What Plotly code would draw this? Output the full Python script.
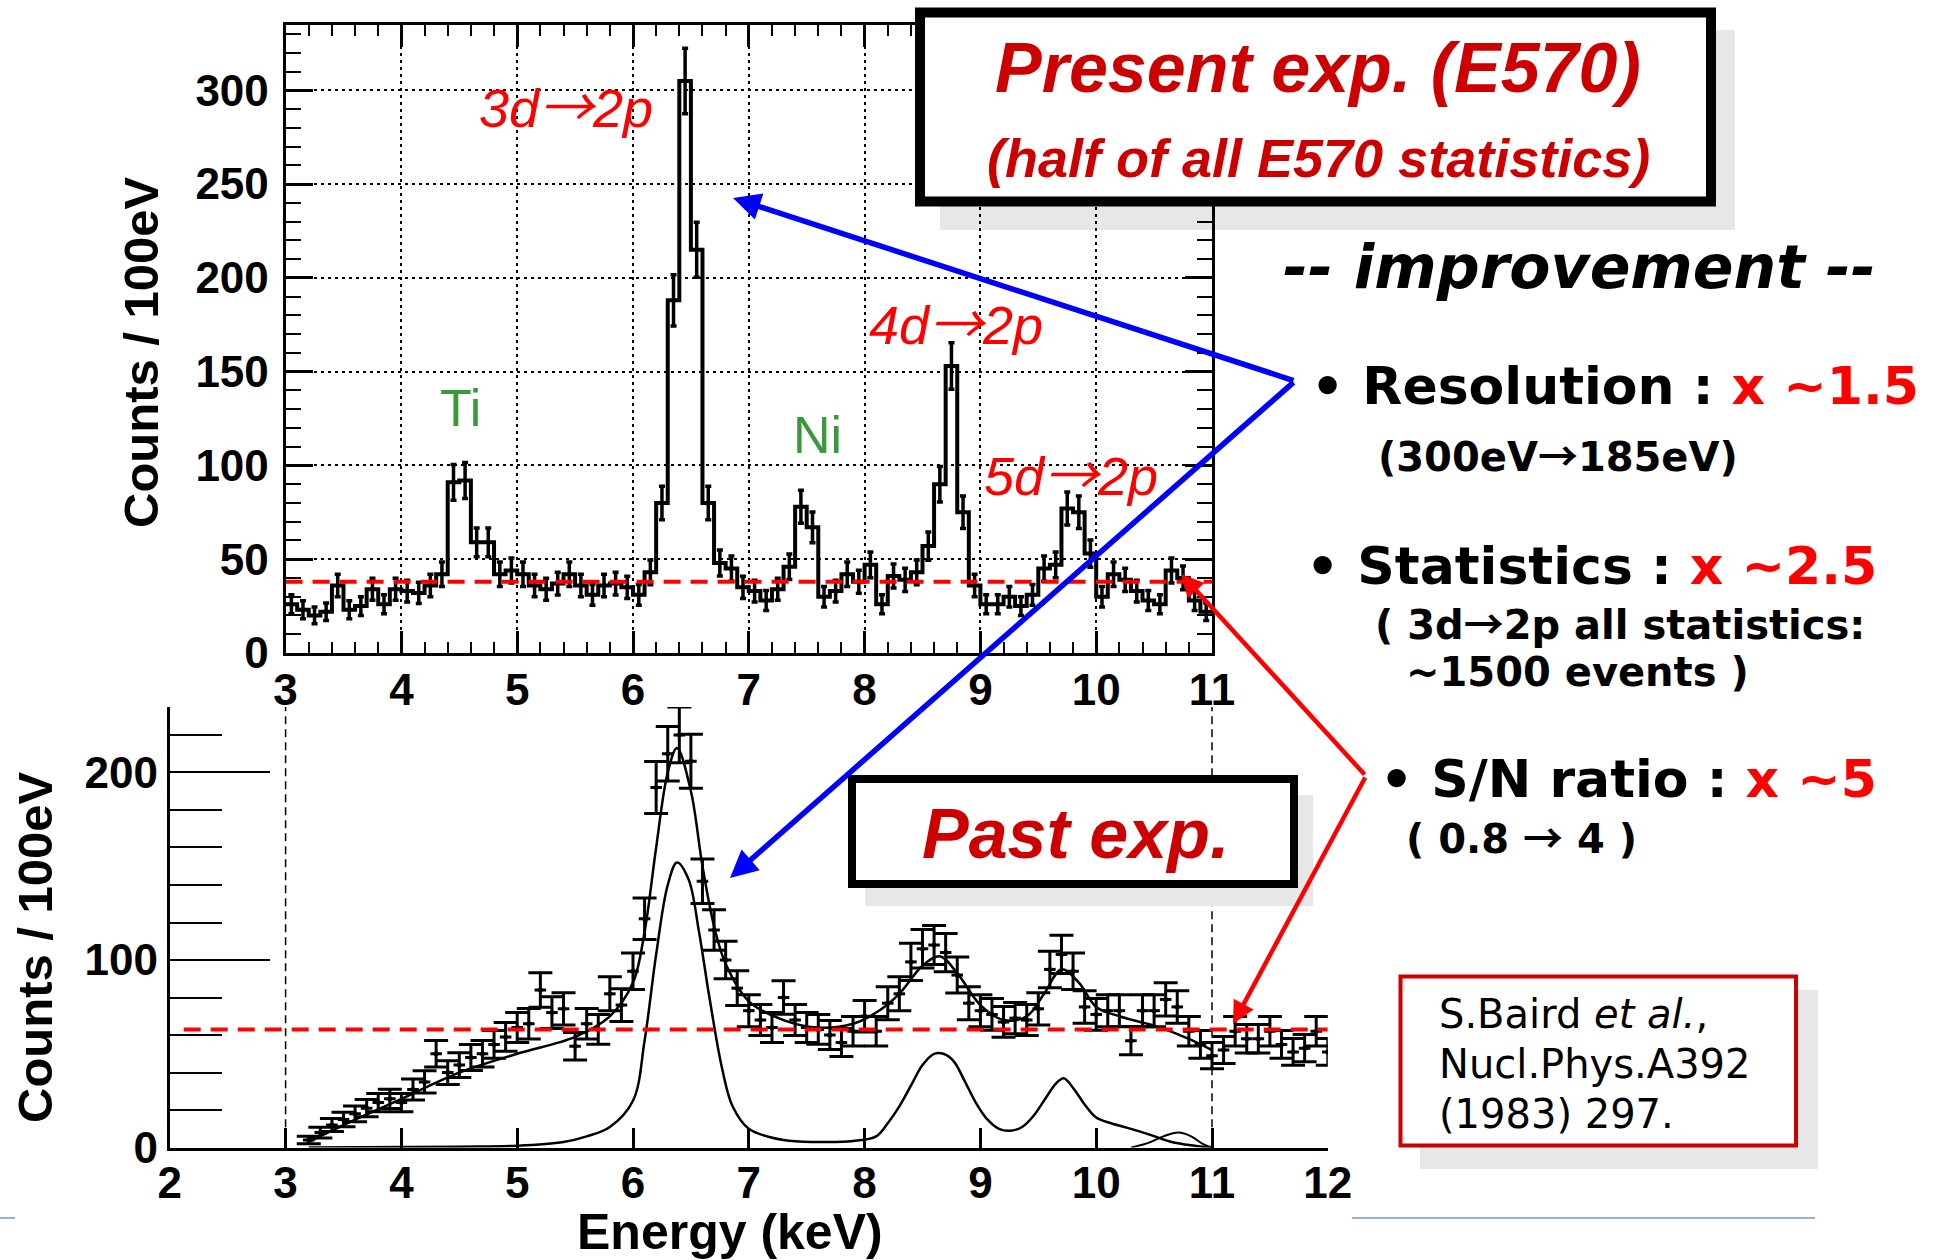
import numpy as np
import plotly.graph_objects as go

W, H = 1939, 1260

# ---------------- data ----------------
# E570 spectrum, 100 eV bins from 3.0 to 11.0 keV
e570_counts = [26, 23, 20, 22, 36, 23, 25, 34, 26, 34,
               33, 32, 36, 42, 91, 92, 59, 59, 42, 44,
               42, 36, 34, 37, 42, 36, 31, 36, 37, 35,
               31, 43, 80, 188, 305, 215, 80, 48, 45, 35,
               33, 28, 34, 46, 78, 67, 30, 33, 42, 38,
               47, 26, 41, 39, 43, 57, 90, 153, 75, 36,
               26, 26, 30, 25, 31, 45, 47, 77, 75, 53,
               30, 42, 39, 33, 28, 26, 44, 40, 28, 22]
e570_bin_lo = 3.0
e570_bin_w = 0.1
e570_bg_level = 38

# Past experiment (S.Baird et al.), points from 3.2 to 12.0 keV
past_counts = [4, 8, 12, 15, 18, 21, 24, 26,
               24, 31, 35, 50, 40, 44, 48, 50, 55, 59,
               64, 66, 84, 72, 74, 54, 66, 63, 82, 76,
               94, 122, 192, 210, 220, 206, 142, 116, 100, 85,
               73, 68, 64, 80, 68, 64, 63, 60, 56, 62,
               70, 62, 77, 82, 99, 106, 108, 104, 92, 77,
               73, 71, 67, 69, 68, 74, 95, 103, 94, 75,
               71, 73, 73, 57, 73, 73, 79, 75, 62, 55,
               49, 52, 62, 58, 58, 62, 55, 51, 53, 62, 51]
past_e_first = 3.2
past_e_step = 0.1
past_bg_level = 63

# total fit curve of the past data
fit_total_e = [3.2, 3.5, 4.0, 4.5, 5.0, 5.5, 5.8, 6.0, 6.1, 6.2, 6.3, 6.38, 6.5,
               6.6, 6.7, 6.8, 7.0, 7.3, 7.6, 7.9, 8.1, 8.3, 8.5, 8.65, 8.8, 9.0,
               9.2, 9.4, 9.55, 9.7, 9.85, 10.0, 10.2, 10.5, 10.8, 11.0]
fit_total_y = [3, 12, 26, 40, 50, 59, 70, 88, 115, 160, 200, 213, 190,
               150, 118, 98, 78, 68, 64, 66, 72, 82, 97, 102, 93, 76,
               68, 70, 82, 95, 88, 75, 70, 65, 58, 52]
# kaonic-line components (3d, 4d, 5d -> 2p)
fit_lines_e = [3.2, 4.5, 5.0, 5.4, 5.6, 5.8, 6.0, 6.1, 6.2, 6.3, 6.38, 6.48, 6.57,
               6.66, 6.77, 6.86, 7.0, 7.3, 7.6, 7.9, 8.1, 8.2, 8.3, 8.4, 8.5, 8.6,
               8.68, 8.77, 8.86, 8.96, 9.06, 9.16, 9.26, 9.36, 9.46, 9.56, 9.65,
               9.72, 9.81, 9.9, 10.0, 10.13, 10.3, 10.48, 10.65, 10.85, 11.0]
fit_lines_y = [0, 0.5, 1, 3, 6, 11, 25, 57, 103, 140, 152, 143, 115,
               80, 42, 22, 10, 4, 3, 3.5, 6, 13, 22, 33, 44, 50,
               50, 46, 36, 24, 15, 10, 9, 11, 17, 26, 34,
               37, 31, 23, 16, 13, 10, 6.5, 3, 1, 0]
# 6d -> 2p component
fit_6d_e = [10.3, 10.45, 10.58, 10.71, 10.82, 10.92, 11.0]
fit_6d_y = [0, 2.5, 6, 8, 6, 2, 0]

# ---------------- pixel geometry ----------------
def fx(x):
    return x / W


def fy(y):
    return 1 - y / H


TOP_X = (285.6, 1212.0)
TOP_Y = (24.7, 653.0)
BOT_X = (169.8, 1327.8)
BOT_Y = (707.0, 1147.6)
PX_PER_COUNT = 1.8757

ARIAL = "Liberation Sans, Arial, sans-serif"
WIDE = "DejaVu Sans, Verdana, sans-serif"
RED = "#FF0000"
DARKRED = "#CC0000"
GREEN = "#3A9A3A"
# full-width arrow glyph
ARROW = "<span style='font-family:Noto Sans CJK JP'>→</span>"

fig = go.Figure()

# ---------------- top: E570 histogram ----------------
counts = np.array(e570_counts, dtype=float)
centers = np.round(e570_bin_lo + e570_bin_w * (np.arange(len(counts)) + 0.5), 3)
hi_edge = e570_bin_lo + e570_bin_w * len(counts)
step_x = np.concatenate([[e570_bin_lo], centers, [hi_edge]])
step_y = np.concatenate([[counts[0]], counts, [counts[-1]]])

fig.add_trace(go.Scatter(x=step_x, y=step_y, mode="lines",
                         line=dict(shape="hvh", color="black", width=4),
                         xaxis="x", yaxis="y", showlegend=False, hoverinfo="skip"))
fig.add_trace(go.Scatter(x=centers, y=counts, mode="markers",
                         marker=dict(size=1, color="black"),
                         error_y=dict(type="data", array=np.sqrt(counts), color="black",
                                      thickness=3.5, width=3),
                         xaxis="x", yaxis="y", showlegend=False))

# ---------------- bottom: past experiment ----------------
pc = np.array(past_counts, dtype=float)
pe = np.round(past_e_first + past_e_step * np.arange(len(pc)), 3)

fig.add_trace(go.Scatter(x=fit_lines_e, y=fit_lines_y, mode="lines",
                         line=dict(shape="spline", color="black", width=2.5),
                         xaxis="x2", yaxis="y2", showlegend=False))
fig.add_trace(go.Scatter(x=fit_6d_e, y=fit_6d_y, mode="lines",
                         line=dict(shape="spline", color="black", width=2),
                         xaxis="x2", yaxis="y2", showlegend=False))
fig.add_trace(go.Scatter(x=fit_total_e, y=fit_total_y, mode="lines",
                         line=dict(shape="spline", color="black", width=2.5),
                         xaxis="x2", yaxis="y2", showlegend=False))
fig.add_trace(go.Scatter(x=pe, y=pc, mode="markers",
                         marker=dict(size=5, color="black"),
                         error_y=dict(type="data", array=np.sqrt(pc), color="black",
                                      thickness=3, width=12),
                         error_x=dict(type="constant", value=0.05, color="black",
                                      thickness=3, width=0),
                         xaxis="x2", yaxis="y2", showlegend=False))

# page-number text drawn in pixel space so that it can run off the lower edge
fig.add_trace(go.Scatter(x=[1771], y=[1262], mode="text", text=["14"],
                         textfont=dict(family=WIDE, size=40, color="#333333"),
                         textposition="middle center", cliponaxis=False,
                         xaxis="x3", yaxis="y3", showlegend=False, hoverinfo="skip"))

tickfont = dict(family=ARIAL, size=44, color="black", weight="bold")

top_yr = (TOP_Y[1] - TOP_Y[0]) / PX_PER_COUNT
bot_yr = (BOT_Y[1] - BOT_Y[0]) / PX_PER_COUNT

fig.update_layout(
    width=W, height=H, margin=dict(l=0, r=0, t=0, b=0, pad=0), autosize=False,
    paper_bgcolor="white", plot_bgcolor="rgba(0,0,0,0)",
    showlegend=False,
    xaxis=dict(domain=[fx(TOP_X[0]), fx(TOP_X[1])], range=[3, 11], anchor="y",
               automargin=False,
               showline=True, linecolor="black", linewidth=3, mirror="allticks",
               ticks="inside", ticklen=22, tickwidth=3, tickcolor="black",
               dtick=1, tick0=3, showgrid=True, gridcolor="black", gridwidth=2,
               griddash="3px,4px", zeroline=False, tickfont=tickfont,
               ticklabelstandoff=-4,
               minor=dict(ticks="inside", ticklen=11, tickwidth=2, dtick=0.2,
                          tickcolor="black", showgrid=False)),
    yaxis=dict(domain=[fy(TOP_Y[1]), fy(TOP_Y[0])], range=[0, top_yr], anchor="x",
               automargin=False,
               showline=True, linecolor="black", linewidth=3, mirror="allticks",
               ticks="inside", ticklen=27, tickwidth=3, tickcolor="black",
               dtick=50, tick0=0, showgrid=True, gridcolor="black", gridwidth=2,
               griddash="3px,4px", zeroline=False, tickfont=tickfont,
               ticklabelstandoff=5,
               minor=dict(ticks="inside", ticklen=15, tickwidth=2, dtick=10,
                          tickcolor="black", showgrid=False)),
    xaxis2=dict(domain=[fx(BOT_X[0]), fx(BOT_X[1])], range=[2, 12], anchor="y2",
                automargin=False,
                showline=True, linecolor="black", linewidth=3, mirror=False,
                ticks="inside", ticklen=20, tickwidth=3, tickcolor="black",
                dtick=1, tick0=2, showgrid=False, zeroline=False, tickfont=tickfont,
                ticklabelstandoff=-5),
    yaxis2=dict(domain=[fy(BOT_Y[1]), fy(BOT_Y[0])], range=[0, bot_yr], anchor="x2",
                automargin=False,
                showline=True, linecolor="black", linewidth=3, mirror=False,
                ticks="inside", ticklen=100, tickwidth=2, tickcolor="black",
                dtick=100, tick0=0, showgrid=False, zeroline=False, tickfont=tickfont,
                ticklabelstandoff=0,
                minor=dict(ticks="inside", ticklen=52, tickwidth=2, dtick=20,
                           tickcolor="black", showgrid=False)),
    xaxis3=dict(domain=[0, 1], range=[0, W], anchor="y3", visible=False,
                automargin=False, fixedrange=True),
    yaxis3=dict(domain=[0, 1], range=[H, 0], anchor="x3", visible=False,
                automargin=False, fixedrange=True),
)

shapes = []

# red background-level lines
shapes.append(dict(type="line", xref="x", yref="y", x0=3, x1=11,
                   y0=e570_bg_level, y1=e570_bg_level,
                   line=dict(color=RED, width=4, dash="17px,10px"), layer="above"))
shapes.append(dict(type="line", xref="x2", yref="y2", x0=2.12, x1=12,
                   y0=past_bg_level, y1=past_bg_level,
                   line=dict(color=RED, width=4, dash="17px,10px"), layer="above"))
# dashed guides at 3 and 11 keV in the lower panel
for xv in (3, 11):
    shapes.append(dict(type="line", xref="x2", yref="y2", x0=xv, x1=xv,
                       y0=-3, y1=bot_yr + 8,
                       line=dict(color="black", width=1.5, dash="8px,5px"), layer="below"))


def rect(x0, y0, x1, y1, **kw):
    return dict(type="rect", xref="paper", yref="paper",
                x0=fx(x0), x1=fx(x1), y0=fy(y1), y1=fy(y0), **kw)


SHADOW = "#E7E7E7"
# drop shadows
shapes.append(rect(940, 30, 1735, 230, fillcolor=SHADOW, line=dict(width=0), layer="below"))
shapes.append(rect(865, 795, 1313, 906, fillcolor=SHADOW, line=dict(width=0), layer="above"))
shapes.append(rect(1420, 990, 1818, 1169, fillcolor=SHADOW, line=dict(width=0), layer="above"))
# boxes
shapes.append(rect(920, 12.5, 1711, 201.5, fillcolor="white",
                   line=dict(color="black", width=10), layer="above"))
shapes.append(rect(852, 779, 1294, 884, fillcolor="white",
                   line=dict(color="black", width=8), layer="above"))
shapes.append(rect(1400.5, 976.5, 1796, 1145.5, fillcolor="white",
                   line=dict(color=DARKRED, width=4), layer="above"))
# footer rule
for x0, x1 in ((0, 15), (1352, 1815)):
    shapes.append(dict(type="line", xref="paper", yref="paper",
                       x0=fx(x0), x1=fx(x1), y0=fy(1218), y1=fy(1218),
                       line=dict(color="#93AFD3", width=2), layer="above"))

fig.update_layout(shapes=shapes)

ann = []


def text(x, y, s, size, family=ARIAL, color="black", weight="normal", style="normal",
         xanchor="center", yanchor="middle", angle=0):
    ann.append(dict(x=fx(x), y=fy(y), xref="paper", yref="paper", text=s,
                    showarrow=False, xanchor=xanchor, yanchor=yanchor, textangle=angle,
                    font=dict(family=family, size=size, color=color,
                              weight=weight, style=style)))


# axis titles
text(141, 352, "Counts / 100eV", 49, weight="bold", angle=-90)
text(35, 947, "Counts / 100eV", 49, weight="bold", angle=-90)
text(730, 1232, "Energy (keV)", 50, weight="bold")

# peak labels
text(566, 103, "3d" + ARROW + "2p", 54, color=RED, style="italic")
text(956, 320, "4d" + ARROW + "2p", 54, color=RED, style="italic")
text(1071, 471, "5d" + ARROW + "2p", 54, color=RED, style="italic")
text(460, 408, "Ti", 52, color=GREEN)
text(817, 435, "Ni", 52, color=GREEN)

# boxes' titles
text(1318, 68, "Present exp. (E570)", 70, color=DARKRED, weight="bold", style="italic")
text(1318, 158, "(half of all E570 statistics)", 54, color=DARKRED,
     weight="bold", style="italic")
text(1075, 834, "Past exp.", 70, color=DARKRED, weight="bold", style="italic")

# improvement summary
text(1579, 267, "-- improvement --", 60, family=WIDE, weight="bold", style="italic")
red_span = "<span style='color:#FF0000'>{}</span>"
text(1309, 386, "• Resolution : " + red_span.format("x ~1.5"), 52, family=WIDE,
     weight="bold", xanchor="left")
text(1376, 454, "(300eV" + ARROW + "185eV)", 40, family=WIDE, weight="bold",
     xanchor="left")
text(1304, 566, "• Statistics : " + red_span.format("x ~2.5"), 52, family=WIDE,
     weight="bold", xanchor="left")
text(1373, 622, "( 3d" + ARROW + "2p all statistics:", 40, family=WIDE, weight="bold",
     xanchor="left")
text(1404, 672, "~1500 events )", 40, family=WIDE, weight="bold", xanchor="left")
text(1378, 779, "• S/N ratio : " + red_span.format("x ~5"), 52, family=WIDE,
     weight="bold", xanchor="left")
text(1404, 836, "( 0.8 " + ARROW + " 4 )", 40, family=WIDE, weight="bold", xanchor="left")

# reference
text(1437, 1014, "S.Baird <i>et al.</i>,", 40, family=WIDE, xanchor="left")
text(1437, 1064, "Nucl.Phys.A392", 40, family=WIDE, xanchor="left")
text(1437, 1114, "(1983) 297.", 40, family=WIDE, xanchor="left")

# arrows linking the summary to the spectra
BLUE_VERTEX = (1295, 381)
BLUE_TIPS = [(733, 198), (730, 878)]
RED_VERTEX = (1366, 776)
RED_TIPS = [(1181, 574), (1233, 1024)]
for vertex, tips, col, lw in ((BLUE_VERTEX, BLUE_TIPS, "#0000FF", 5.5),
                              (RED_VERTEX, RED_TIPS, RED, 4.5)):
    for tx, ty in tips:
        ann.append(dict(x=fx(tx), y=fy(ty), xref="paper", yref="paper", text="",
                        showarrow=True, arrowhead=2, arrowsize=1, arrowwidth=lw,
                        arrowcolor=col, ax=vertex[0] - tx, ay=vertex[1] - ty,
                        axref="pixel", ayref="pixel"))

fig.update_layout(annotations=ann)
fig.write_html("out.html")
